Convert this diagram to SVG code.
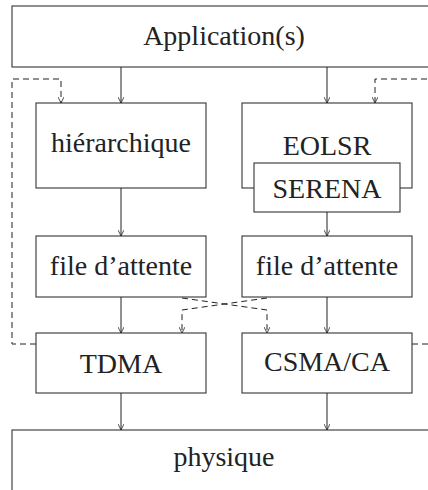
<svg xmlns="http://www.w3.org/2000/svg" width="428" height="490" viewBox="0 0 428 490">
<defs>
<marker id="arr" viewBox="0 0 10 10" refX="10" refY="5" markerWidth="6" markerHeight="6" markerUnits="userSpaceOnUse" orient="auto">
<path d="M0,0 L10,5 L0,10" fill="none" stroke="#222" stroke-width="1.3"/>
</marker>
<style>
.box{fill:#fff;stroke:#333;stroke-width:1.1}
.lbl{font-family:"Liberation Serif","DejaVu Serif",serif;font-size:28px;fill:#222;text-anchor:middle}
.ln{fill:none;stroke:#222;stroke-width:1;marker-end:url(#arr)}
.da{fill:none;stroke:#222;stroke-width:1;stroke-dasharray:6,4;marker-end:url(#arr)}
</style>
</defs>
<rect width="428" height="490" fill="#fff"/>
<g id="app"><rect class="box" x="12" y="6" width="430" height="61"/><text class="lbl" x="224" y="45">Application(s)</text></g>
<g id="hier"><rect class="box" x="36" y="103" width="170" height="85"/><text class="lbl" x="121" y="152">hiérarchique</text></g>
<g id="eolsr"><rect class="box" x="242" y="103" width="170" height="85"/><text class="lbl" x="327" y="155">EOLSR</text></g>
<g id="serena"><rect class="box" x="254" y="163" width="146" height="49"/><text class="lbl" x="327" y="198">SERENA</text></g>
<g id="fa1"><rect class="box" x="36" y="236" width="170" height="61"/><text class="lbl" x="121" y="275">file d’attente</text></g>
<g id="fa2"><rect class="box" x="242" y="236" width="170" height="61"/><text class="lbl" x="327" y="275">file d’attente</text></g>
<g id="tdma"><rect class="box" x="36" y="333" width="170" height="60"/><text class="lbl" x="121" y="373">TDMA</text></g>
<g id="csma"><rect class="box" x="242" y="333" width="170" height="60"/><text class="lbl" x="327" y="371">CSMA/CA</text></g>
<g id="phy"><rect class="box" x="12" y="430" width="430" height="70"/><text class="lbl" x="224" y="466">physique</text></g>
<g id="connectors">
<path class="ln" d="M121,67 V103"/>
<path class="ln" d="M327,67 V103"/>
<path class="ln" d="M121,188 V236"/>
<path class="ln" d="M327,212 V236"/>
<path class="ln" d="M121,297 V333"/>
<path class="ln" d="M327,297 V333"/>
<path class="ln" d="M121,393 V430"/>
<path class="ln" d="M327,393 V430"/>
<path class="da" d="M36,344 H12 V79 H61 V103"/>
<path class="da" d="M412,344 H432 V79 H375 V103"/>
<path class="da" d="M182,298 L267,310 V333"/>
<path class="da" d="M267,298 L182,310 V333"/>
</g>
</svg>
